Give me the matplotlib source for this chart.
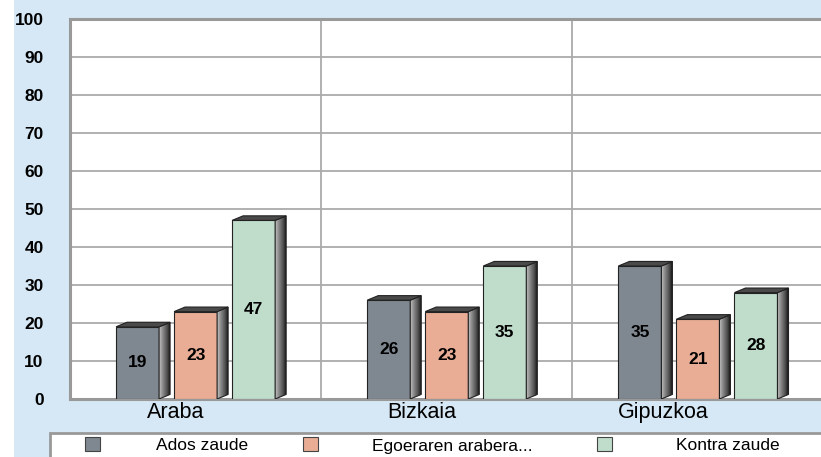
import numpy as np
import matplotlib
matplotlib.use("Agg")
import matplotlib.pyplot as plt
from matplotlib.patches import Rectangle, Polygon

plt.rcParams['font.family'] = ['Liberation Sans', 'DejaVu Sans']

categories = ['Araba', 'Bizkaia', 'Gipuzkoa']
series = ['Ados zaude', 'Egoeraren arabera...', 'Kontra zaude']
ados = [19, 26, 35]
egoera = [23, 23, 21]
kontra = [47, 35, 28]
values = [ados, egoera, kontra]
colors = ['#7f8790', '#e9ad96', '#c0ddcc']
yticks = [0, 10, 20, 30, 40, 50, 60, 70, 80, 90, 100]

W, H = 821, 457
fig = plt.figure(figsize=(W / 100, H / 100), dpi=100)
fig.patch.set_facecolor('white')
# light blue panel
fig.patches.append(Rectangle((14 / W, 0), 1, 1, transform=fig.transFigure,
                             facecolor='#d6e8f5', edgecolor='none', zorder=-5))

ax = fig.add_axes([70 / W, (H - 399) / H, (W - 70) / W, (399 - 19) / H])
ax.set_facecolor('white')

for y in yticks[1:]:
    ax.axhline(y, color='#aaaaaa', lw=1.3, zorder=1)
for x in [0.5, 1.5]:
    ax.axvline(x, color='#aaaaaa', lw=1.3, zorder=1)

bw = 43 / 251
step = 58 / 251
dx = 11 / 251
dy = 1.2
grad = np.linspace(0, 1, 50).reshape(1, -1)

for s, vals in enumerate(values):
    for i, v in enumerate(vals):
        xc = i + (s - 1) * step
        x0, x1 = xc - bw / 2, xc + bw / 2
        ax.bar(xc, v, width=bw, color=colors[s], edgecolor='#222222', lw=0.8, zorder=3)
        side = Polygon([(x1, 0), (x1 + dx, dy), (x1 + dx, v + dy), (x1, v)],
                       closed=True, facecolor='none', edgecolor='#222222', lw=0.8, zorder=4)
        ax.add_patch(side)
        im = ax.imshow(grad, cmap='Greys', vmin=-0.6, vmax=1.1, extent=(x1, x1 + dx, 0, v + dy),
                       aspect='auto', zorder=3.5)
        im.set_clip_path(side)
        top = Polygon([(x0, v), (x0 + dx, v + dy), (x1 + dx, v + dy), (x1, v)],
                      closed=True, facecolor='#4a4a4a', edgecolor='#222222', lw=0.8, zorder=4)
        ax.add_patch(top)
        ax.text(xc, v / 2, str(v), ha='center', va='center', fontsize=12.5,
                fontweight='bold', color='black', zorder=5)

ax.set_xlim(-0.5, 2.49)
ax.set_ylim(0, 100)
ax.set_yticks(yticks)
ax.set_yticklabels([str(t) for t in yticks], fontsize=12.5, fontweight='bold')
ax.set_xticks([i + off for i, off in enumerate([-0.08, -0.1, -0.14])])
ax.set_xticklabels(categories, fontsize=15.5)
ax.tick_params(axis='y', length=0, pad=19)
ax.tick_params(axis='x', length=0, pad=2)
for sp in ['left', 'top', 'bottom']:
    ax.spines[sp].set_color('#999999')
    ax.spines[sp].set_linewidth(2.2)
ax.spines['right'].set_visible(False)

# legend box
fig.patches.append(Rectangle((50 / W, -0.05), 1, (H - 433) / H + 0.05, transform=fig.transFigure,
                             facecolor='white', edgecolor='#999999', lw=2, zorder=1))
sq_x = [85, 303, 597]
txt_x = [202, 452, 728]
for s in range(3):
    fig.patches.append(Rectangle((sq_x[s] / W, (H - 451) / H), 15 / W, 14 / H,
                                 transform=fig.transFigure, facecolor=colors[s],
                                 edgecolor='#444444', lw=0.8, zorder=2))
    fig.text(txt_x[s] / W, (H - 446) / H, series[s], ha='center', va='center',
             fontsize=12.5, zorder=3)

fig.savefig('out.png', dpi=100)
